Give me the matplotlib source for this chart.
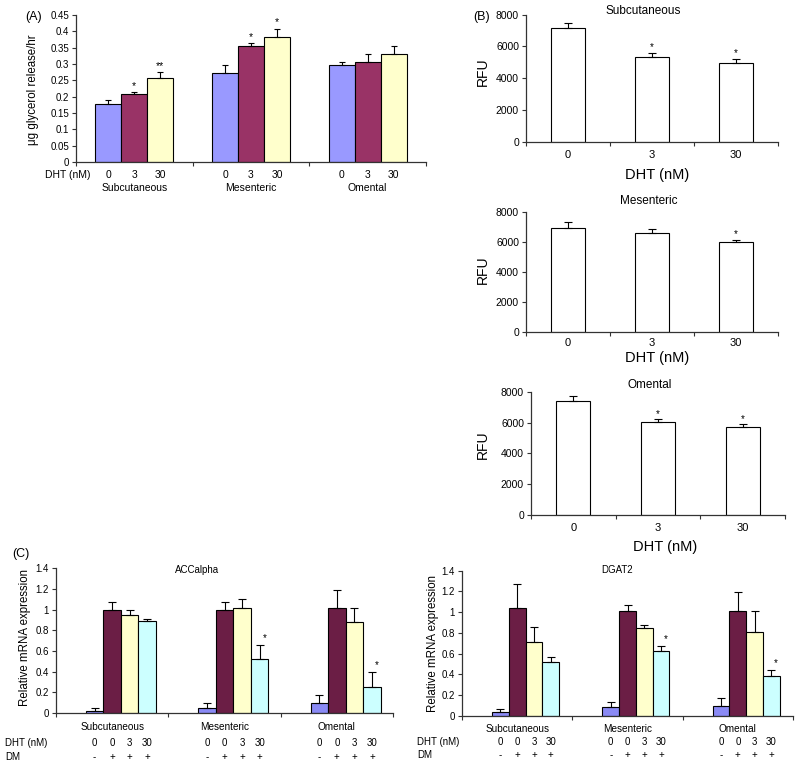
import matplotlib
matplotlib.use("Agg")
import matplotlib.pyplot as plt
import matplotlib.transforms as mtransforms
from matplotlib.ticker import FormatStrFormatter, FuncFormatter

plt.rcParams['font.family'] = ['Liberation Sans', 'DejaVu Sans']

# ---------------- data ----------------
A_groups = ["Subcutaneous", "Mesenteric", "Omental"]
A_doses = ["0", "3", "30"]
A_mean = [[0.178, 0.209, 0.258], [0.272, 0.355, 0.382], [0.298, 0.307, 0.330]]
A_err = [[0.012, 0.005, 0.017], [0.024, 0.008, 0.025], [0.008, 0.023, 0.026]]
A_sig = [["", "*", "**"], ["", "*", "*"], ["", "", ""]]
A_colors = ["#9999FF", "#993366", "#FFFFCC"]

B_tissues = ["Subcutaneous", "Mesenteric", "Omental"]
B_doses = ["0", "3", "30"]
B_mean = [[7140, 5350, 4960], [6930, 6560, 5980], [7410, 6050, 5690]]
B_err = [[320, 220, 250], [360, 270, 130], [310, 150, 190]]
B_sig = [["", "*", "*"], ["", "", "*"], ["", "*", "*"]]

C_groups = ["Subcutaneous", "Mesenteric", "Omental"]
C_dht = ["0", "0", "3", "30"]
C_dm = ["-", "+", "+", "+"]
C_colors = ["#8A8AF5", "#6B1E45", "#FFFFCC", "#CCFFFF"]
ACC_mean = [[0.02, 1.0, 0.95, 0.89], [0.05, 1.0, 1.02, 0.523], [0.097, 1.013, 0.878, 0.249]]
ACC_err = [[0.03, 0.077, 0.047, 0.023], [0.05, 0.075, 0.08, 0.132], [0.077, 0.177, 0.135, 0.148]]
ACC_sig = [["", "", "", ""], ["", "", "", "*"], ["", "", "", "*"]]
DGAT_mean = [[0.035, 1.04, 0.716, 0.523], [0.084, 1.009, 0.845, 0.626], [0.10, 1.014, 0.812, 0.388]]
DGAT_err = [[0.029, 0.229, 0.139, 0.048], [0.048, 0.063, 0.032, 0.048], [0.076, 0.176, 0.202, 0.055]]
DGAT_sig = [["", "", "", ""], ["", "", "", "*"], ["", "", "", "*"]]

# ---------------- layout helpers ----------------
W, H = 800, 769
fig = plt.figure(figsize=(W / 100, H / 100), dpi=100)
SP = '#333333'


def add_ax(x0, y0, x1, y1):
    return fig.add_axes([x0 / W, 1 - y1 / H, (x1 - x0) / W, (y1 - y0) / H])


def ftext(x, y, s, **kw):
    fig.text(x / W, 1 - y / H, s, **kw)


def style(ax, ylim, yticks, fmt, fs=7):
    ax.set_ylim(*ylim)
    ax.set_xlim(0, 3)
    ax.set_yticks(yticks)
    ax.yaxis.set_major_formatter(fmt)
    ax.set_xticks([0, 1, 2, 3])
    ax.set_xticklabels([])
    for s in ['top', 'right']:
        ax.spines[s].set_visible(False)
    for s in ['left', 'bottom']:
        ax.spines[s].set_color(SP)
        ax.spines[s].set_linewidth(0.9)
    ax.tick_params(axis='both', direction='out', length=3, width=0.8, color=SP,
                   labelsize=fs, pad=2)
    ax.patch.set_alpha(0)


def bars(ax, xs, vals, errs, width, colors, capsize):
    ax.bar(xs, vals, width=width, color=colors, edgecolor='black', linewidth=0.8, zorder=2)
    ax.errorbar(xs, vals, yerr=[[0] * len(vals), errs], fmt='none', ecolor='black',
                elinewidth=0.8, capsize=capsize, capthick=0.8, zorder=3)


gfmt = FuncFormatter(lambda v, p: ('%g' % round(v, 3)))

# ---------------- Panel A ----------------
axA = add_ax(76, 15, 426, 162)
wA = 26 / 117
for i, g in enumerate(A_groups):
    xs = [i + 0.5 + (j - 1) * wA for j in range(3)]
    bars(axA, xs, A_mean[i], A_err[i], wA, A_colors, 2.2)
    for j in range(3):
        if A_sig[i][j]:
            axA.annotate(A_sig[i][j], (xs[j], A_mean[i][j] + A_err[i][j]), xytext=(0, 2.5),
                         textcoords='offset points', ha='center', va='baseline', fontsize=7.5)
style(axA, (0, 0.45), [k * 0.05 for k in range(10)], gfmt)
trA = mtransforms.blended_transform_factory(axA.transData, fig.transFigure)
for i, g in enumerate(A_groups):
    for j, d in enumerate(A_doses):
        axA.text(i + 0.5 + (j - 1) * wA, 1 - 175 / H, d, transform=trA, ha='center',
                 va='center', fontsize=7.5)
    axA.text(i + 0.5, 1 - 188 / H, g, transform=trA, ha='center', va='center', fontsize=7.5)
ftext(45, 175, "DHT (nM)", ha='left', va='center', fontsize=7.5)
ftext(34, 17, "(A)", ha='center', va='center', fontsize=9)
ftext(33, 90, "μg glycerol release/hr", rotation=90, ha='center', va='center', fontsize=8.3)

# ---------------- Panel B ----------------
B_boxes = [(526, 14.7, 778, 141.7), (526, 211.7, 778, 331.7), (531, 391.7, 785, 515)]
B_title_pos = [(643, 11), (649, 200.7), (650, 385)]
B_ticklab_y = [155, 343, 528]
B_xlab_pos = [(657, 175), (657, 358), (665, 547)]
B_ylab_y = [72, 270, 445]
for k, t in enumerate(B_tissues):
    ax = add_ax(*B_boxes[k])
    xs = [j + 0.5 for j in range(3)]
    bars(ax, xs, B_mean[k], B_err[k], 0.4, ['white'] * 3, 3)
    for j in range(3):
        if B_sig[k][j]:
            ax.annotate(B_sig[k][j], (xs[j], B_mean[k][j] + B_err[k][j]), xytext=(0, 2),
                        textcoords='offset points', ha='center', va='baseline', fontsize=7)
    style(ax, (0, 8000), [0, 2000, 4000, 6000, 8000], FormatStrFormatter('%d'), fs=7.5)
    tr = mtransforms.blended_transform_factory(ax.transData, fig.transFigure)
    for j, d in enumerate(B_doses):
        ax.text(xs[j], 1 - B_ticklab_y[k] / H, d, transform=tr, ha='center', va='center',
                fontsize=8)
    ftext(*B_title_pos[k], t, ha='center', va='center', fontsize=8.5)
    ftext(*B_xlab_pos[k], "DHT (nM)", ha='center', va='center', fontsize=10.5)
    ftext(483, B_ylab_y[k], "RFU", rotation=90, ha='center', va='center', fontsize=10)
ftext(482, 17, "(B)", ha='center', va='center', fontsize=9)

# ---------------- Panel C ----------------
C_specs = [
    ("ACCalpha", ACC_mean, ACC_err, ACC_sig, (56, 568.3, 393, 713), 17.5 / 112,
     (197, 570), (25, 637), 727, 743, 757, 5),
    ("DGAT2", DGAT_mean, DGAT_err, DGAT_sig, (462, 570.7, 793, 716), 16.8 / 110.5,
     (617, 570), (433, 643), 729, 742, 755, 417),
]
for (title, mean, err, sig, box, w, tpos, ylpos, gy, dy, my, rx) in C_specs:
    ax = add_ax(*box)
    tr = mtransforms.blended_transform_factory(ax.transData, fig.transFigure)
    for i, g in enumerate(C_groups):
        xs = [i + 0.5 + (j - 1) * w for j in range(4)]
        bars(ax, xs, mean[i], err[i], w, C_colors, 3)
        for j in range(4):
            if sig[i][j]:
                ax.annotate(sig[i][j], (xs[j], mean[i][j] + err[i][j]), xytext=(3.5, 3),
                            textcoords='offset points', ha='center', va='baseline', fontsize=7)
            ax.text(xs[j], 1 - dy / H, C_dht[j], transform=tr, ha='center', va='center',
                    fontsize=7)
            ax.text(xs[j], 1 - my / H, C_dm[j], transform=tr, ha='center', va='center',
                    fontsize=7)
        ax.text(i + 0.5, 1 - gy / H, g, transform=tr, ha='center', va='center', fontsize=7.2)
    style(ax, (0, 1.4), [0, 0.2, 0.4, 0.6, 0.8, 1.0, 1.2, 1.4], gfmt)
    ftext(*tpos, title, ha='center', va='center', fontsize=7)
    ftext(*ylpos, "Relative mRNA expression", rotation=90, ha='center', va='center',
          fontsize=8.3)
    ftext(rx, dy, "DHT (nM)", ha='left', va='center', fontsize=7)
    ftext(rx, my, "DM", ha='left', va='center', fontsize=7)
ftext(21, 554, "(C)", ha='center', va='center', fontsize=9)

fig.savefig("out.png", dpi=100)
